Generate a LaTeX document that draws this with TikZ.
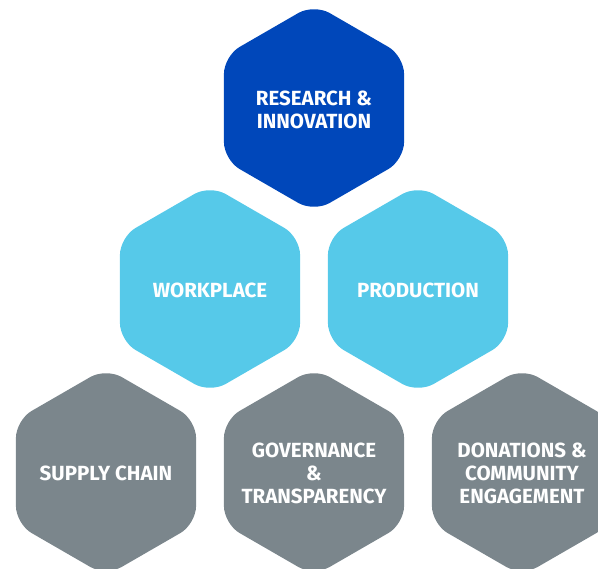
\documentclass[tikz,border=0pt]{standalone}
\usepackage{fontspec}
\setmainfont{Fira Sans}
\definecolor{hexdark}{HTML}{0047BA}
\definecolor{hexlight}{HTML}{56C9E9}
\definecolor{hexgray}{HTML}{7B868C}
\tikzset{
  hexfill/.style={fill=#1, rounded corners=18pt},
  hexlabel/.style={text=white, align=center, font=\fontsize{20.5}{22.8}\selectfont\bfseries, inner sep=0pt, yshift=-1.5pt}
}
\newcommand\hexcell[5]{%
  \begin{scope}[shift={(#2,#3)}]
    \fill[hexfill=#4] (45.03,78) -- (0,104) -- (-90.07,52) -- (-90.07,-52) -- (0,-104) -- (90.07,-52) -- (90.07,52) -- cycle;
  \end{scope}
  \node[hexlabel] (#1) at (#2,#3) {#5};
}
\begin{document}
\begin{tikzpicture}[x=1pt,y=-1pt]
\useasboundingbox (0,0) rectangle (598,569);
\hexcell{research}{314}{108}{hexdark}{RESEARCH \&\\INNOVATION}
\hexcell{workplace}{210}{289}{hexlight}{WORKPLACE}
\hexcell{production}{418}{289}{hexlight}{PRODUCTION}
\hexcell{supply}{106}{472}{hexgray}{SUPPLY CHAIN}
\hexcell{governance}{314}{472}{hexgray}{GOVERNANCE\\\&\\TRANSPARENCY}
\hexcell{donations}{522}{472}{hexgray}{DONATIONS \&\\COMMUNITY\\ENGAGEMENT}
\end{tikzpicture}
\end{document}
